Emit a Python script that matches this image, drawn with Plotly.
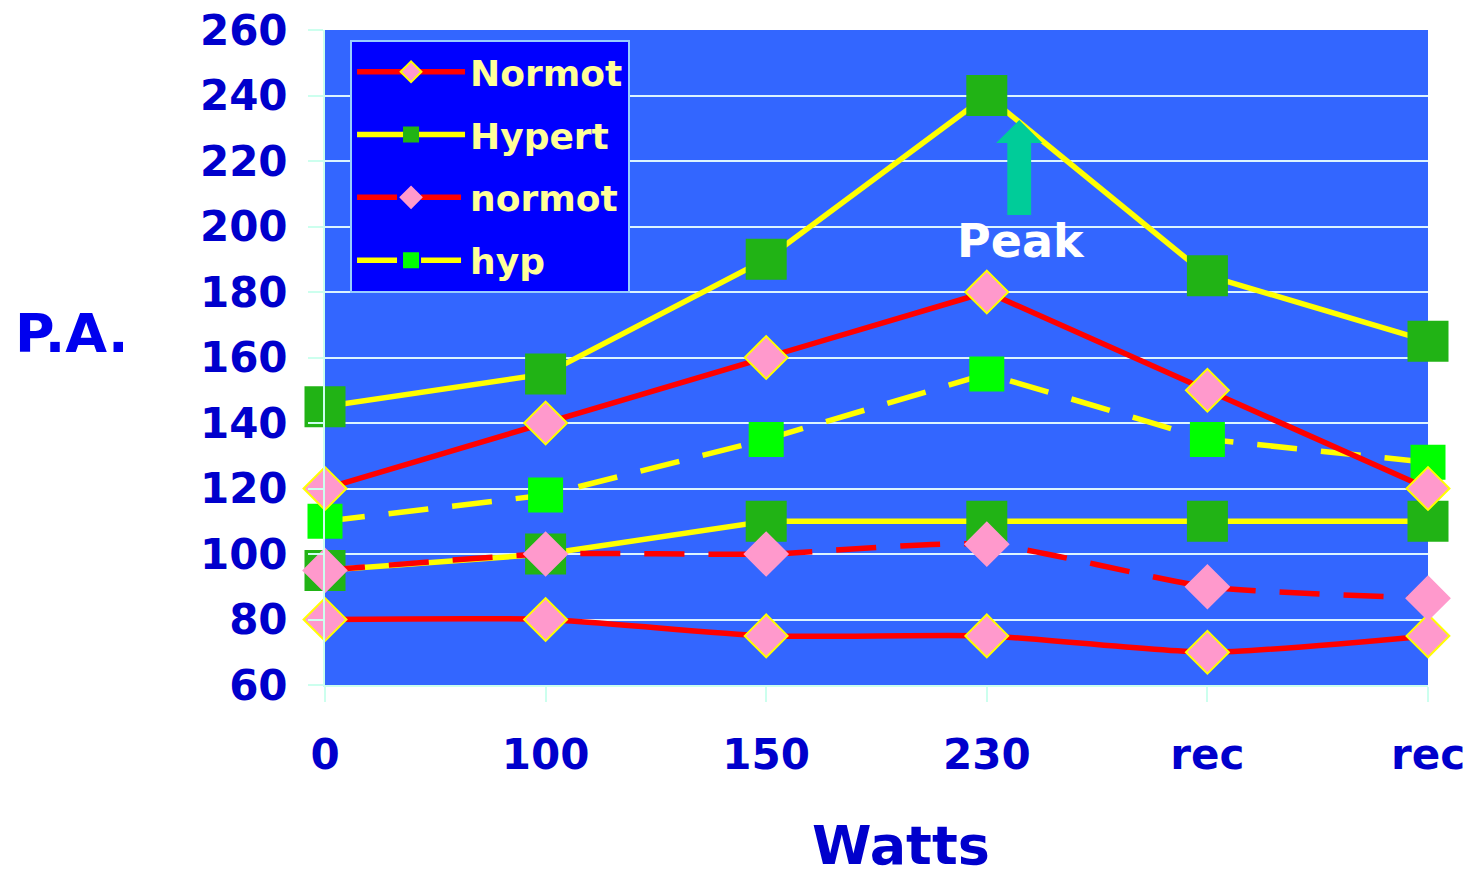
import plotly.graph_objects as go

categories = ["0", "100", "150", "230", "rec", "rec"]
x_pos = [0, 1, 2, 3, 4, 5]

normot_sys = [120, 140, 160, 180, 150, 120]
normot_dia = [80, 80, 75, 75, 70, 75]
hypert_sys = [145, 155, 190, 240, 185, 165]
hypert_dia = [95, 100, 110, 110, 110, 110]
normot_dash = [95, 100, 100, 103, 90, 86.5]
hyp_dash = [110, 118, 135, 155, 135, 128]

y_ticks = [60, 80, 100, 120, 140, 160, 180, 200, 220, 240, 260]

RED = "#FF0000"
YEL = "#FFFF00"
PINK = "#FF99CC"
DGREEN = "#21B315"
BGREEN = "#00FF00"
FONT = "DejaVu Sans"

fig = go.Figure()

def add(y, name, color, dash, msym, msize, mcolor, mline, show, rank, shape="linear"):
    fig.add_trace(go.Scatter(
        x=x_pos, y=y, name=name, mode="lines+markers",
        line=dict(color=color, width=5.5, dash=dash, shape=shape, smoothing=0.6 if shape == "spline" else None),
        marker=dict(symbol=msym, size=msize, color=mcolor,
                    line=dict(color=mline, width=2 if mline else 0)),
        showlegend=show, legendrank=rank, legendgroup=name,
        cliponaxis=False,
    ))

add(hypert_sys, "Hypert", YEL, "solid", "square", 41, DGREEN, None, True, 2)
add(hypert_dia, "Hypert_d", YEL, "solid", "square", 41, DGREEN, None, False, 20)
add(hyp_dash, "hyp", YEL, "40px,24px", "square", 35, BGREEN, None, True, 4)
add(normot_sys, "Normot", RED, "solid", "diamond", 33, PINK, YEL, True, 1)
add(normot_dia, "Normot_d", RED, "solid", "diamond", 33, PINK, YEL, False, 10, "spline")
add(normot_dash, "normot", RED, "40px,24px", "diamond", 33, PINK, PINK, True, 3, "spline")

# Peak arrow (polygon in data coordinates)
ax, shaft_w, head_w = 3.147, 0.054, 0.105
y_bot, y_base, y_top = 203.5, 225.5, 232.5
path = (f"M {ax-shaft_w},{y_bot} L {ax+shaft_w},{y_bot} L {ax+shaft_w},{y_base} "
        f"L {ax+head_w},{y_base} L {ax},{y_top} L {ax-head_w},{y_base} "
        f"L {ax-shaft_w},{y_base} Z")
fig.add_shape(type="path", path=path, xref="x", yref="y",
              fillcolor="#00CC99", line=dict(width=0), layer="above")

fig.add_annotation(x=3.155, y=195.6, xref="x", yref="y", text="<b>Peak</b>",
                   showarrow=False, font=dict(family=FONT, size=46, color="white"))

fig.add_annotation(x=0.522, y=-0.245, xref="paper", yref="paper", text="<b>Watts</b>",
                   showarrow=False, font=dict(family=FONT, size=54, color="#0000CC"),
                   xanchor="center", yanchor="middle")
fig.add_annotation(x=-0.230, y=0.537, xref="paper", yref="paper", text="<b>P.A.</b>",
                   showarrow=False, font=dict(family=FONT, size=54, color="#0000EE"),
                   xanchor="center", yanchor="middle")

fig.update_layout(
    width=1472, height=877,
    margin=dict(l=325, r=44, t=30, b=192, autoexpand=False),
    paper_bgcolor="white", plot_bgcolor="#3366FF",
    font=dict(family=FONT),
    legend=dict(x=0.0227, y=0.985, xanchor="left", yanchor="top",
                bgcolor="#0000FF", bordercolor="#99CCFF", borderwidth=2,
                font=dict(family=FONT, size=36, color="#FFFF99", weight="bold"),
                itemwidth=108, tracegroupgap=13, traceorder="grouped"),
    xaxis=dict(range=[0, 5], tickvals=x_pos, ticktext=categories, automargin=False,
               showgrid=False, zeroline=False, showline=True, linecolor="#CCFFEE", linewidth=2,
               ticks="outside", ticklen=15, tickcolor="#CCFFEE", tickwidth=2,
               ticklabelstandoff=17,
               tickfont=dict(family=FONT, size=42, color="#0000CC", weight="bold")),
    yaxis=dict(range=[60, 260], tickvals=y_ticks, automargin=False,
               showgrid=True, gridcolor="#DDF4FF", gridwidth=2, zeroline=False,
               showline=True, linecolor="#CCFFEE", linewidth=2,
               ticks="outside", ticklen=15, tickcolor="#CCFFEE", tickwidth=2,
               ticklabelstandoff=12,
               tickfont=dict(family=FONT, size=42, color="#0000CC", weight="bold")),
)

fig.write_html("out.html")
